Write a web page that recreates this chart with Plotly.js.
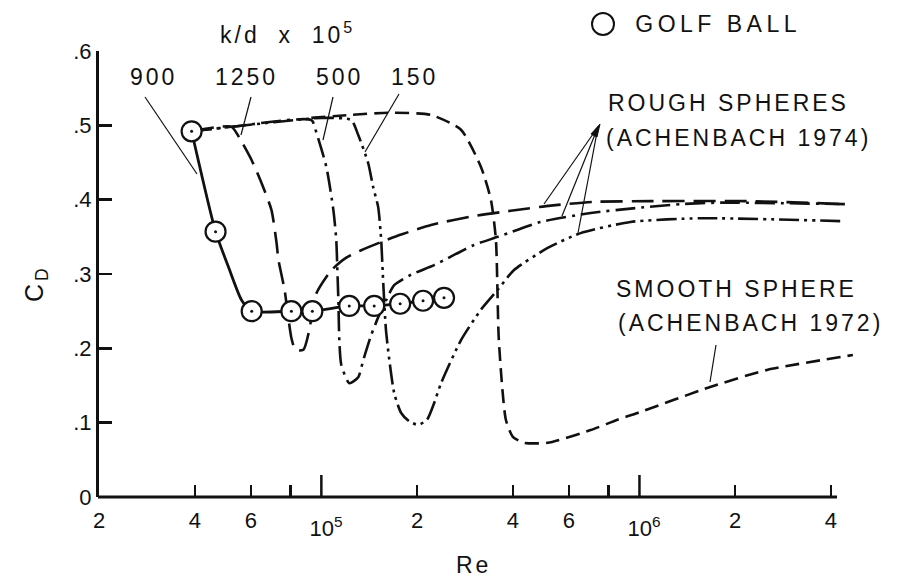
<!DOCTYPE html>
<html>
<head>
<meta charset="utf-8">
<script src="https://cdn.plot.ly/plotly-3.0.1.min.js"></script>
<style>
  html, body { margin: 0; padding: 0; background: #fff; }
  #chart { width: 904px; height: 585px; }
  .annotation-text { letter-spacing: 3px; }
</style>
</head>
<body>
<div id="chart"></div>
<script>
// ---------------- data ----------------
// Golf ball measurements (k/d = 900e-5)
const reGolf = [39100, 46500, 60400, 80500, 93700, 122400, 146600, 176900, 208800, 243000];
const cdGolf = [0.492, 0.357, 0.250, 0.250, 0.250, 0.257, 0.257, 0.260, 0.264, 0.268];
// Golf ball faired curve
const reGolfLine = [39100, 46500, 51100, 56100, 60400, 80500, 93700, 122400, 146600, 176900, 208800, 243000];
const cdGolfLine = [0.492, 0.357, 0.309, 0.265, 0.250, 0.250, 0.250, 0.257, 0.257, 0.260, 0.264, 0.268];

// Rough spheres, k/d = 1250e-5
const re1250 = [39100, 52200, 55300, 60400, 64900, 69700, 72300, 73300, 76600, 80500, 82900, 87800, 91700, 93700, 96500, 107500, 119800, 133500, 154200, 178200, 221200, 301800, 394000, 526000, 717500, 1083000, 2228000, 4424000];
const cd1250 = [0.492, 0.498, 0.483, 0.453, 0.422, 0.386, 0.342, 0.319, 0.279, 0.214, 0.198, 0.198, 0.225, 0.250, 0.274, 0.305, 0.322, 0.332, 0.343, 0.353, 0.366, 0.378, 0.385, 0.392, 0.397, 0.398, 0.398, 0.394];

// Rough spheres, k/d = 500e-5
const re500 = [39100, 52200, 93100, 96500, 103700, 109100, 111400, 112300, 113100, 113900, 115500, 122400, 130600, 135400, 143500, 152000, 159900, 169400, 191500, 226100, 301800, 358900, 489400, 702200, 937000, 1345000, 1794000, 4424000];
const cd500 = [0.492, 0.498, 0.507, 0.490, 0.444, 0.386, 0.346, 0.305, 0.265, 0.211, 0.178, 0.153, 0.161, 0.184, 0.218, 0.245, 0.265, 0.285, 0.299, 0.312, 0.339, 0.350, 0.370, 0.382, 0.388, 0.394, 0.396, 0.394];

// Rough spheres, k/d = 150e-5
const re150 = [39100, 52200, 100000, 124200, 130600, 140400, 145500, 150900, 154200, 156500, 159900, 169400, 178200, 188700, 201400, 214900, 226100, 237800, 274800, 317500, 358900, 402700, 514600, 653100, 937000, 1553000, 4424000];
const cd150 = [0.492, 0.498, 0.510, 0.507, 0.487, 0.449, 0.417, 0.390, 0.346, 0.288, 0.221, 0.140, 0.113, 0.102, 0.097, 0.104, 0.126, 0.153, 0.211, 0.252, 0.279, 0.305, 0.335, 0.355, 0.370, 0.375, 0.371];

// Smooth sphere (Achenbach 1972)
const reSmooth = [93000, 124200, 162200, 221200, 274800, 317500, 341200, 353800, 361400, 380200, 399900, 432900, 514600, 702200, 853100, 985600, 1669000, 2519000, 4687000];
const cdSmooth = [0.510, 0.514, 0.517, 0.514, 0.494, 0.444, 0.400, 0.346, 0.211, 0.104, 0.081, 0.073, 0.073, 0.090, 0.104, 0.113, 0.148, 0.171, 0.191];

// Axis ticks
const xLabelVals = [2e4, 4e4, 6e4, 2e5, 4e5, 6e5, 2e6, 4e6];
const xLabelText = ["2", "4", "6", "2", "4", "6", "2", "4"];
const xUnlabelled = [8e4, 8e5];
const xDecades = [1e5, 1e6];
const xDecadeText = ["10<sup>5</sup>", "10<sup>6</sup>"];
const yTickVals = [0, 0.1, 0.2, 0.3, 0.4, 0.5, 0.6];
const yTickText = ["0", ".1", ".2", ".3", ".4", ".5", ".6"];

// ---------------- layout geometry ----------------
const W = 904, H = 585;
const M = { l: 99, r: 46, t: 51, b: 88 };
const PW = W - M.l - M.r, PH = H - M.t - M.b;
const px = x => (x - M.l) / PW;          // page pixel -> paper x
const py = y => (H - M.b - y) / PH;      // page pixel -> paper y
const xRange = [Math.log10(2e4), 6.687];
const xPaper = v => (Math.log10(v) - xRange[0]) / (xRange[1] - xRange[0]);

const INK = '#111';
const FONT = 'Liberation Sans, Arial, sans-serif';

function curve(x, y, dash, width) {
  return { x: x, y: y, mode: 'lines', type: 'scatter', hoverinfo: 'skip', showlegend: false,
           line: { color: INK, width: width || 2.6, dash: dash, shape: 'spline', smoothing: 0.6 } };
}

const traces = [
  curve(reSmooth, cdSmooth, '14px,7px'),
  curve(re1250, cd1250, '22px,9px'),
  curve(re500, cd500, '20px,6px,3px,6px'),
  curve(re150, cd150, '20px,5px,3px,5px,3px,5px'),
  curve(reGolfLine, cdGolfLine, 'solid', 2.8),
  { x: reGolf, y: cdGolf, mode: 'markers', type: 'scatter', hoverinfo: 'skip', showlegend: false,
    marker: { symbol: 'circle', size: 20, color: '#fff', line: { color: INK, width: 2.2 } } },
  { x: reGolf, y: cdGolf, mode: 'markers', type: 'scatter', hoverinfo: 'skip', showlegend: false,
    marker: { symbol: 'circle', size: 3, color: INK } }
];

function ann(text, x, y, xanchor, extra) {
  return Object.assign({ text: text, xref: 'paper', yref: 'paper', x: px(x), y: py(y),
    xanchor: xanchor || 'center', yanchor: 'middle', showarrow: false,
    font: { family: FONT, size: 23, color: INK } }, extra || {});
}

function seg(x0, y0, x1, y1, w) {
  return { type: 'line', xref: 'paper', yref: 'paper', x0: px(x0), y0: py(y0), x1: px(x1), y1: py(y1),
           line: { color: INK, width: w || 1.2 } };
}

const annotations = [
  ann('k/d\u00a0\u00a0x\u00a0\u00a010<sup>5</sup>', 287, 33),
  ann('900', 153, 77),
  ann('1250', 246, 77),
  ann('500', 339, 77),
  ann('150', 414, 77),
  ann('GOLF BALL', 640, 24, 'left'),
  ann('ROUGH SPHERES', 606, 103, 'left'),
  ann('(ACHENBACH 1974)', 604, 138, 'left'),
  ann('SMOOTH SPHERE', 614, 289, 'left'),
  ann('(ACHENBACH 1972)', 616, 323, 'left'),
  ann('Re', 473, 565),
  ann('C<sub>D</sub>', 36, 283, 'center', { textangle: -90, font: { family: FONT, size: 25, color: INK } })
];
// decade labels sit a little lower than the other x tick labels
xDecades.forEach((v, i) => {
  annotations.push({ text: xDecadeText[i], xref: 'paper', yref: 'paper', x: xPaper(v) + 5 / PW,
    y: py(527), xanchor: 'center', yanchor: 'middle', showarrow: false,
    font: { family: FONT, size: 22, color: INK } });
});

const shapes = [
  // x axis line (ends at the 4 x 10^6 tick)
  { type: 'line', xref: 'paper', yref: 'paper', x0: px(M.l - 1), y0: 0, x1: px(837), y1: 0,
    line: { color: INK, width: 3 } },
  // leader lines
  seg(145, 97, 197, 174),
  seg(251, 97, 241, 135),
  seg(333, 97, 323, 140),
  seg(399, 94, 365, 152),
  seg(598, 127, 544, 204),
  seg(598, 127, 562, 216),
  seg(598, 127, 578, 233),
  seg(716, 345, 710, 382),
  // arrow head of the rough-sphere leaders
  { type: 'path', xref: 'paper', yref: 'paper', fillcolor: INK, line: { color: INK, width: 1 },
    path: 'M ' + px(600) + ' ' + py(124) + ' L ' + px(591) + ' ' + py(134) + ' L ' + px(597) + ' ' + py(137) + ' Z' },
  // golf ball key symbol
  { type: 'circle', xref: 'paper', yref: 'paper', x0: px(592), x1: px(614), y0: py(35), y1: py(13),
    line: { color: INK, width: 2 } }
];
// longer ticks at the decades
xDecades.forEach(v => {
  shapes.push({ type: 'line', xref: 'paper', yref: 'paper', x0: xPaper(v), x1: xPaper(v),
    y0: 0, y1: 22 / PH, line: { color: INK, width: 2.5 } });
});

const layout = {
  width: W, height: H,
  margin: M,
  paper_bgcolor: '#fff', plot_bgcolor: '#fff',
  showlegend: false,
  font: { family: FONT, size: 22, color: INK },
  xaxis: {
    type: 'log', range: xRange, showgrid: false, zeroline: false, showline: false,
    tickmode: 'array', tickvals: xLabelVals, ticktext: xLabelText,
    ticks: 'inside', ticklen: 12, tickwidth: 2.5, tickcolor: INK, ticklabelstandoff: 8,
    tickfont: { family: FONT, size: 22, color: INK },
    minor: { tickmode: 'array', tickvals: xUnlabelled, ticks: 'inside', ticklen: 12, tickwidth: 2.5, tickcolor: INK, showgrid: false }
  },
  yaxis: {
    range: [0, 0.6], showgrid: false, zeroline: false, showline: true, linewidth: 3, linecolor: INK,
    tickmode: 'array', tickvals: yTickVals, ticktext: yTickText,
    ticks: 'inside', ticklen: 13, tickwidth: 2.5, tickcolor: INK,
    tickfont: { family: FONT, size: 22, color: INK }
  },
  annotations: annotations,
  shapes: shapes
};

Plotly.newPlot('chart', traces, layout, { staticPlot: true, displayModeBar: false }).then(gd => {
  gd.querySelectorAll('.annotation-text').forEach(t => {
    const s = (t.textContent || '').replace(/[^0-9A-Za-z ]/g, '');
    if (s === 'GOLF BALL') t.style.letterSpacing = '4.5px';
    if (/^10[56]$/.test(s)) {
      t.style.letterSpacing = '0px';
      t.querySelectorAll('tspan').forEach(ts => { ts.style.letterSpacing = '0px'; });
    }
  });
});
</script>
</body>
</html>
